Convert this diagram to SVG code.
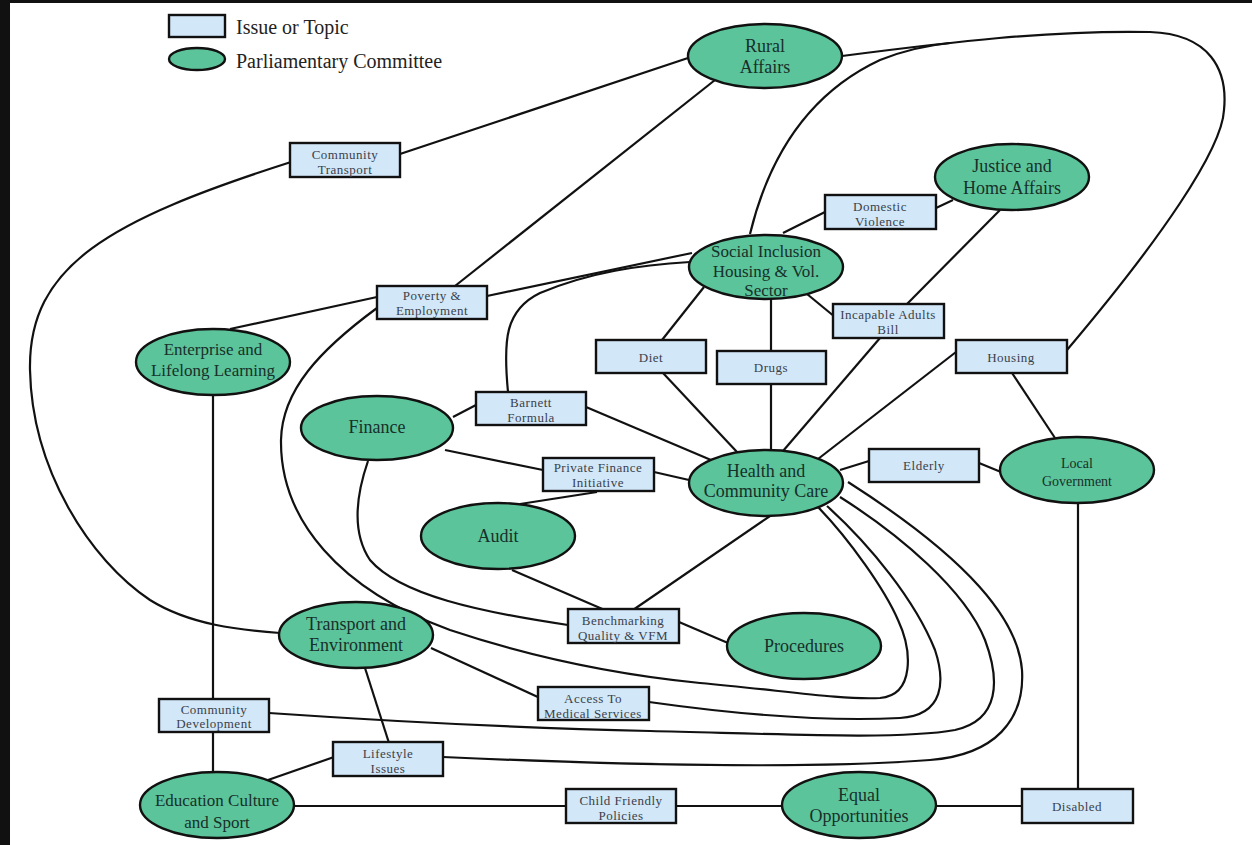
<svg xmlns="http://www.w3.org/2000/svg" width="1252" height="845" viewBox="0 0 1252 845">
<style>
.e{fill:#5cc49a;stroke:#111;stroke-width:2.4}
.r{fill:#d2e7f8;stroke:#111;stroke-width:2.4}
.et{font-family:"Liberation Serif","Times New Roman",serif;font-size:18px;fill:#17302a;text-anchor:middle}
.rt{font-family:"Liberation Serif","Times New Roman",serif;font-size:13px;letter-spacing:0.5px;fill:#3a3f4a;text-anchor:middle}
.lt{font-family:"Liberation Serif","Times New Roman",serif;font-size:20px;fill:#222}
#connectors path{fill:none;stroke:#111;stroke-width:2.2}
</style>
<rect x="0" y="0" width="1252" height="845" fill="#111"/>
<rect x="10" y="3" width="1242" height="842" fill="#fff"/>

<g id="legend">
<rect class="r" x="169" y="15" width="56" height="22"/>
<text class="lt" x="236" y="34">Issue or Topic</text>
<ellipse class="e" cx="197" cy="59" rx="28" ry="11"/>
<text class="lt" x="236" y="68">Parliamentary Committee</text>
</g>

<g id="connectors">
<path d="M400,154 L688,58"/>
<path d="M291,162 C110,220 28,265 30,370 C32,470 90,560 150,600 C190,625 240,630 280,633"/>
<path d="M715,80 L455,286"/>
<path d="M842,56 C950,42 1050,30 1150,32 C1210,34 1228,70 1224,110 C1222,150 1160,240 1067,350"/>
<path d="M750,234 C768,160 805,95 880,60 C900,52 920,46 950,43"/>
<path d="M783,233 L825,212"/>
<path d="M936,208 L953,200"/>
<path d="M1000,210 L907,304"/>
<path d="M807,294 L835,317"/>
<path d="M880,338 L783,451"/>
<path d="M956,352 L818,459"/>
<path d="M1012,373 L1055,438"/>
<path d="M840,470 L869,461"/>
<path d="M979,463 L1001,472"/>
<path d="M704,287 L662,340"/>
<path d="M663,373 L737,452"/>
<path d="M771,299 L771,351"/>
<path d="M771,384 L771,450"/>
<path d="M586,407 L711,460"/>
<path d="M453,417 L476,405"/>
<path d="M508,392 C503,340 505,310 540,293 C590,272 640,265 690,262"/>
<path d="M487,296 L692,253"/>
<path d="M377,297 L230,329"/>
<path d="M377,308 C320,350 282,390 281,440 C280,520 340,590 450,630 C540,660 620,675 700,683 C780,690 840,700 880,698 C915,695 912,650 898,620 C885,590 850,540 818,507"/>
<path d="M368,461 C358,490 350,530 370,560 C400,595 480,612 568,625"/>
<path d="M649,702 C720,712 820,722 900,718 C945,715 945,680 935,650 C915,600 870,545 827,506"/>
<path d="M269,713 C400,722 520,728 650,731 C780,734 900,740 955,730 C1000,720 1000,680 985,640 C965,590 900,535 840,497"/>
<path d="M443,757 C600,764 800,770 930,760 C995,755 1025,720 1022,670 C1018,620 970,560 848,482"/>
<path d="M654,472 L689,480"/>
<path d="M445,450 L543,470"/>
<path d="M597,492 L520,504"/>
<path d="M512,570 L607,611"/>
<path d="M633,610 L770,516"/>
<path d="M679,622 L728,643"/>
<path d="M431,648 L540,698"/>
<path d="M365,668 L389,743"/>
<path d="M334,757 L268,780"/>
<path d="M213,394 L213,773"/>
<path d="M293,806 L566,806"/>
<path d="M676,806 L782,806"/>
<path d="M936,806 L1022,806"/>
<path d="M1078,503 L1078,789"/>
</g>

<g id="rural-affairs"><ellipse class="e" cx="765" cy="56" rx="77" ry="32"/><text class="et" x="765" y="52">Rural</text><text class="et" x="765" y="73">Affairs</text></g>
<g id="justice"><ellipse class="e" cx="1012" cy="177" rx="77" ry="33"/><text class="et" x="1012" y="172">Justice and</text><text class="et" x="1012" y="194">Home Affairs</text></g>
<g id="social-inclusion"><ellipse class="e" cx="766" cy="267" rx="77" ry="32"/><text class="et" style="font-size:17px" x="766" y="257">Social Inclusion</text><text class="et" style="font-size:17px" x="766" y="277">Housing &amp; Vol.</text><text class="et" style="font-size:17px" x="766" y="296">Sector</text></g>
<g id="enterprise"><ellipse class="e" cx="213" cy="362" rx="77" ry="33"/><text class="et" style="font-size:17px" x="213" y="355">Enterprise and</text><text class="et" style="font-size:17px" x="213" y="376">Lifelong Learning</text></g>
<g id="finance"><ellipse class="e" cx="377" cy="428" rx="76" ry="32"/><text class="et" x="377" y="433">Finance</text></g>
<g id="health"><ellipse class="e" cx="766" cy="483" rx="77" ry="33"/><text class="et" x="766" y="477">Health and</text><text class="et" x="766" y="497">Community Care</text></g>
<g id="local-government"><ellipse class="e" cx="1077" cy="470" rx="77" ry="33"/><text class="et" style="font-size:14px" x="1077" y="468">Local</text><text class="et" style="font-size:14px" x="1077" y="486">Government</text></g>
<g id="audit"><ellipse class="e" cx="498" cy="536" rx="77" ry="33"/><text class="et" x="498" y="542">Audit</text></g>
<g id="transport"><ellipse class="e" cx="356" cy="635" rx="77" ry="33"/><text class="et" x="356" y="630">Transport and</text><text class="et" x="356" y="651">Environment</text></g>
<g id="procedures"><ellipse class="e" cx="804" cy="646" rx="77" ry="33"/><text class="et" x="804" y="652">Procedures</text></g>
<g id="education"><ellipse class="e" cx="217" cy="805" rx="77" ry="33"/><text class="et" style="font-size:17px" x="217" y="806">Education Culture</text><text class="et" style="font-size:17px" x="217" y="828">and Sport</text></g>
<g id="equal-opportunities"><ellipse class="e" cx="859" cy="805" rx="77" ry="33"/><text class="et" x="859" y="801">Equal</text><text class="et" x="859" y="822">Opportunities</text></g>

<g id="community-transport"><rect class="r" x="290" y="143" width="110" height="34"/><text class="rt" x="345" y="159">Community</text><text class="rt" x="345" y="174">Transport</text></g>
<g id="poverty"><rect class="r" x="377" y="286" width="110" height="33"/><text class="rt" x="432" y="300">Poverty &amp;</text><text class="rt" x="432" y="315">Employment</text></g>
<g id="domestic-violence"><rect class="r" x="825" y="195" width="111" height="34"/><text class="rt" x="880" y="211">Domestic</text><text class="rt" x="880" y="226">Violence</text></g>
<g id="incapable-adults"><rect class="r" x="833" y="304" width="111" height="34"/><text class="rt" x="888" y="319">Incapable Adults</text><text class="rt" x="888" y="334">Bill</text></g>
<g id="diet"><rect class="r" x="596" y="340" width="110" height="33"/><text class="rt" x="651" y="362">Diet</text></g>
<g id="drugs"><rect class="r" x="717" y="351" width="109" height="33"/><text class="rt" x="771" y="372">Drugs</text></g>
<g id="housing"><rect class="r" x="956" y="340" width="111" height="33"/><text class="rt" x="1011" y="362">Housing</text></g>
<g id="barnett"><rect class="r" x="476" y="392" width="110" height="33"/><text class="rt" x="531" y="407">Barnett</text><text class="rt" x="531" y="422">Formula</text></g>
<g id="pfi"><rect class="r" x="543" y="458" width="111" height="33"/><text class="rt" x="598" y="472">Private Finance</text><text class="rt" x="598" y="487">Initiative</text></g>
<g id="elderly"><rect class="r" x="869" y="449" width="110" height="33"/><text class="rt" x="924" y="470">Elderly</text></g>
<g id="benchmarking"><rect class="r" x="568" y="609" width="111" height="34"/><text class="rt" x="623" y="625">Benchmarking</text><text class="rt" x="623" y="640">Quality &amp; VFM</text></g>
<g id="community-development"><rect class="r" x="159" y="699" width="110" height="33"/><text class="rt" x="214" y="714">Community</text><text class="rt" x="214" y="728">Development</text></g>
<g id="access-medical"><rect class="r" x="538" y="687" width="111" height="33"/><text class="rt" x="593" y="703">Access To</text><text class="rt" x="593" y="718">Medical Services</text></g>
<g id="lifestyle"><rect class="r" x="333" y="742" width="110" height="34"/><text class="rt" x="388" y="758">Lifestyle</text><text class="rt" x="388" y="773">Issues</text></g>
<g id="child-friendly"><rect class="r" x="566" y="789" width="110" height="34"/><text class="rt" x="621" y="805">Child Friendly</text><text class="rt" x="621" y="820">Policies</text></g>
<g id="disabled"><rect class="r" x="1022" y="789" width="111" height="34"/><text class="rt" x="1077" y="811">Disabled</text></g>
</svg>
